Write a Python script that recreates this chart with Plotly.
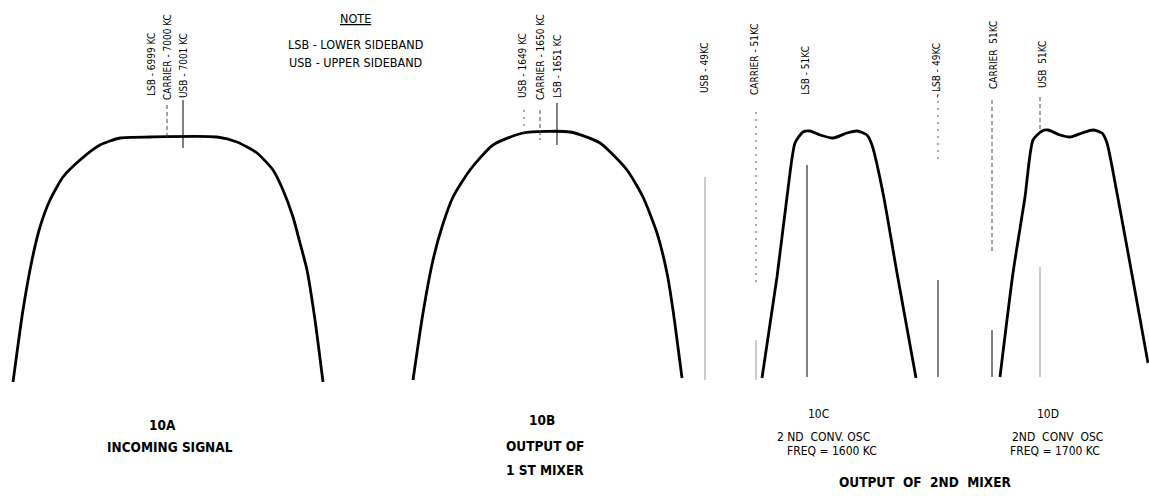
import plotly.graph_objects as go

# ---- data (drawing coordinates, px; y grows downward) ----
curve_10a_x = [13, 23, 32, 40, 50, 63, 80, 100, 120, 150, 217, 237, 257, 273, 283, 293, 300, 307, 315, 323]
curve_10a_y = [382, 310, 260, 227, 200, 177, 160, 145, 138, 137, 137, 142, 153, 170, 190, 217, 243, 270, 320, 382]

curve_10b_x = [413, 423, 433, 442, 453, 470, 493, 523, 570, 600, 627, 643, 657, 667, 673, 682]
curve_10b_y = [380, 313, 260, 227, 197, 170, 145, 133, 132, 143, 170, 197, 233, 273, 310, 378]

curve_10c_x = [762, 777, 787, 795, 803, 810, 820, 833, 847, 857, 867, 872, 883, 897, 916]
curve_10c_y = [378, 277, 197, 143, 132, 131, 135, 138, 133, 131, 135, 145, 193, 273, 378]

curve_10d_x = [1000, 1013, 1025, 1033, 1042, 1048, 1060, 1070, 1082, 1093, 1102, 1107, 1117, 1133, 1148]
curve_10d_y = [377, 273, 197, 140, 131, 130, 135, 137, 133, 130, 133, 143, 193, 280, 363]

# frequency marker segments
marker_x      = [167, 183, 524, 540, 557, 705, 756, 756, 807, 938, 938, 992, 992, 1040, 1040]
marker_top    = [105, 100, 110, 110, 103, 177, 112, 340, 165, 80, 280, 100, 330, 97, 267]
marker_bottom = [140, 148, 133, 140, 145, 380, 287, 380, 377, 160, 377, 253, 377, 130, 377]
marker_kind   = ["dash", "solid", "dot", "dash", "solid", "grey", "dot", "grey", "solid",
                 "dot", "solid", "dash", "solid", "dash", "grey"]

# vertical frequency labels
freq_labels = ["LSB - 6999 KC", "CARRIER - 7000 KC", "USB - 7001 KC",
               "USB - 1649 KC", "CARRIER - 1650 KC", "LSB - 1651 KC",
               "USB - 49KC", "CARRIER - 51KC", "LSB - 51KC",
               "- LSB - 49KC", "CARRIER  51KC", "USB  51KC"]
freq_label_x = [151, 167, 183, 522, 540, 557, 704, 754, 805, 936, 993, 1042]
freq_label_y = [65, 57, 66, 66, 57, 67, 68, 59, 71, 71, 55, 65]

# caption texts
captions = ["10A", "INCOMING SIGNAL", "10B", "OUTPUT OF", "1 ST MIXER",
            "10C", "2 ND  CONV. OSC", "FREQ = 1600 KC",
            "10D", "2ND  CONV  OSC", "FREQ = 1700 KC", "OUTPUT  OF  2ND  MIXER"]
caption_x = [162, 170, 542, 545, 545, 818, 823, 832, 1048, 1057, 1055, 925]
caption_y = [425, 447, 420, 446, 470, 414, 437, 451, 414, 437, 451, 482]
caption_bold = [True, True, True, True, True, False, False, False, False, False, False, True]

note_lines = ["<u>NOTE</u>", "LSB - LOWER SIDEBAND", "USB - UPPER SIDEBAND"]
note_y = [18, 44, 62]

FONT = "Liberation Sans Narrow, DejaVu Sans Condensed, Arial Narrow, sans-serif"
VIEW_W, VIEW_H = 1149, 500

fig = go.Figure()

for cx, cy in [(curve_10a_x, curve_10a_y), (curve_10b_x, curve_10b_y),
               (curve_10c_x, curve_10c_y), (curve_10d_x, curve_10d_y)]:
    fig.add_trace(go.Scatter(x=cx, y=cy, mode="lines",
                             line=dict(color="black", width=2.8, shape="spline", smoothing=0.6),
                             hoverinfo="skip", showlegend=False))

style = {"solid": dict(color="black", width=1, dash="solid"),
         "dash": dict(color="#444", width=1, dash="4px,3px"),
         "dot": dict(color="#555", width=1, dash="2px,5px"),
         "grey": dict(color="#999", width=1, dash="solid")}
for mx, mt, mb, mk in zip(marker_x, marker_top, marker_bottom, marker_kind):
    fig.add_trace(go.Scatter(x=[mx, mx], y=[mt, mb], mode="lines", line=style[mk],
                             hoverinfo="skip", showlegend=False))

for t, x, y in zip(freq_labels, freq_label_x, freq_label_y):
    fig.add_annotation(x=x, y=y, text=t, textangle=-90, showarrow=False,
                       xanchor="center", yanchor="middle",
                       font=dict(family=FONT, size=10, color="black"))

for t, x, y, b in zip(captions, caption_x, caption_y, caption_bold):
    fig.add_annotation(x=x, y=y, text=f"<b>{t}</b>" if b else t, showarrow=False,
                       xanchor="center", yanchor="middle",
                       font=dict(family=FONT, size=13.5 if b else 12, color="black"))

for t, y in zip(note_lines, note_y):
    fig.add_annotation(x=355, y=y, text=t, showarrow=False, xanchor="center", yanchor="middle",
                       font=dict(family=FONT, size=12.5, color="black"))

fig.update_layout(width=VIEW_W, height=VIEW_H, margin=dict(l=0, r=0, t=0, b=0),
                  paper_bgcolor="white", plot_bgcolor="white", hovermode=False,
                  xaxis=dict(range=[0, VIEW_W], visible=False, fixedrange=True),
                  yaxis=dict(range=[VIEW_H, 0], visible=False, fixedrange=True))

# remove the default page margin so the drawing fills the window exactly
fig.write_html("out.html",
               config={"displayModeBar": False, "staticPlot": True},
               post_script="document.body.style.margin='0px';document.body.style.overflow='hidden';")
